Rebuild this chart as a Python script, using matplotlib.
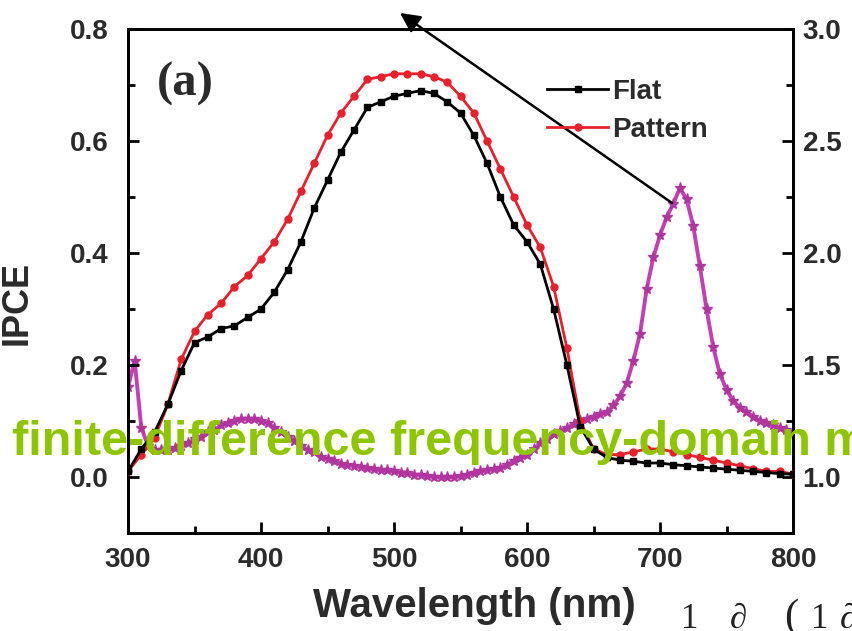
import numpy as np
import matplotlib
matplotlib.use("Agg")
import matplotlib.pyplot as plt

# IPCE spectra (10 nm steps)
wl = np.arange(300, 801, 10)
ipce_flat = [0.01, 0.05, 0.08, 0.13, 0.19, 0.24, 0.25, 0.265, 0.27, 0.285,
             0.30, 0.33, 0.37, 0.42, 0.48, 0.53, 0.58, 0.62, 0.66, 0.67,
             0.68, 0.685, 0.69, 0.685, 0.67, 0.65, 0.61, 0.56, 0.50, 0.45,
             0.42, 0.38, 0.30, 0.20, 0.09, 0.05, 0.035, 0.03, 0.028, 0.025,
             0.025, 0.022, 0.02, 0.018, 0.016, 0.014, 0.012, 0.01, 0.008, 0.006,
             0.005]
ipce_pattern = [0.01, 0.04, 0.07, 0.13, 0.21, 0.26, 0.29, 0.31, 0.34, 0.36,
                0.39, 0.42, 0.46, 0.51, 0.56, 0.61, 0.65, 0.68, 0.71, 0.715,
                0.72, 0.72, 0.72, 0.715, 0.705, 0.68, 0.65, 0.60, 0.55, 0.50,
                0.45, 0.41, 0.34, 0.23, 0.10, 0.05, 0.04, 0.04, 0.045, 0.05,
                0.05, 0.045, 0.04, 0.035, 0.03, 0.025, 0.02, 0.015, 0.01, 0.01,
                0.005]

# right-axis spectrum (5 nm steps)
wl_r = np.arange(300, 801, 5)
spec_r = [1.40, 1.52, 1.22, 1.14, 1.12, 1.12, 1.12, 1.13, 1.14, 1.15,
          1.17, 1.18, 1.20, 1.21, 1.23, 1.24, 1.25, 1.26, 1.26, 1.26,
          1.25, 1.24, 1.22, 1.20, 1.18, 1.16, 1.14, 1.12, 1.11, 1.09,
          1.08, 1.07, 1.06, 1.055, 1.05, 1.045, 1.04, 1.035, 1.03, 1.03,
          1.025, 1.02, 1.02, 1.01, 1.01, 1.005, 1.00, 1.00, 1.00, 1.00,
          1.005, 1.01, 1.02, 1.025, 1.03, 1.035, 1.04, 1.055, 1.07, 1.085,
          1.10, 1.125, 1.15, 1.17, 1.19, 1.205, 1.22, 1.235, 1.25, 1.26,
          1.27, 1.28, 1.29, 1.32, 1.36, 1.42, 1.52, 1.64, 1.84, 1.98,
          2.08, 2.16, 2.22, 2.29, 2.24, 2.12, 1.94, 1.75, 1.58, 1.46,
          1.39, 1.34, 1.31, 1.29, 1.27, 1.25, 1.24, 1.23, 1.22, 1.21,
          1.20]

FONT = "Liberation Sans"
TICK_C = "#2b2b2b"

fig = plt.figure(figsize=(8.52, 6.31), dpi=100)
ax = fig.add_axes([128 / 852, 1 - 533 / 631, (793 - 128) / 852, (533 - 29) / 631])
ax2 = ax.twinx()

ax2.plot(wl_r, spec_r, '-', color='#c43fb4', lw=2.8, marker='*', ms=8,
         mfc='#b0359f', mec='#b0359f', zorder=2)
ax.plot(wl, ipce_pattern, '-', color='#e8202c', lw=2, marker='o', ms=5, zorder=3,
        label='Pattern')
ax.plot(wl, ipce_flat, '-', color='black', lw=2, marker='s', ms=4.5, zorder=4,
        label='Flat')
ax.set_zorder(ax2.get_zorder() + 1)
ax.patch.set_visible(False)

ax.set_xlim(300, 800)
ax.set_ylim(-0.1, 0.8)
ax2.set_ylim(0.75, 3.0)
ax.set_xticks(np.arange(300, 801, 100))
ax.set_xticks(np.arange(350, 800, 100), minor=True)
ax.set_yticks(np.arange(0, 0.81, 0.2))
ax.set_yticks(np.arange(-0.1, 0.8, 0.2), minor=True)
ax2.set_yticks(np.arange(1.0, 3.01, 0.5))
ax2.set_yticks(np.arange(0.75, 3.0, 0.5), minor=True)
ax.set_yticklabels(['0.0', '0.2', '0.4', '0.6', '0.8'])
ax2.set_yticklabels(['1.0', '1.5', '2.0', '2.5', '3.0'])

for a in (ax, ax2):
    for s in a.spines.values():
        s.set_linewidth(2)
    a.tick_params(which='both', direction='in', width=2, colors='black',
                  labelcolor=TICK_C, labelsize=20, pad=7)
    a.tick_params(which='major', length=8)
    a.tick_params(which='minor', length=5)
    for lab in a.get_xticklabels() + a.get_yticklabels():
        lab.set_fontfamily(FONT)
        lab.set_fontweight('bold')
ax.tick_params(axis='y', pad=14)
ax.tick_params(axis='x', pad=10)

fig.text(474 / 852, 1 - 606 / 631, 'Wavelength (nm)', ha='center', va='center',
         fontsize=29, fontweight='bold', family=FONT, color=TICK_C)
fig.text(17 / 852, 1 - 303 / 631, 'IPCE', ha='center', va='center', rotation=90,
         fontsize=26, fontweight='bold', family=FONT, color=TICK_C)
fig.text(157 / 852, 1 - 62 / 631, '(a)', ha='left', va='top',
         fontsize=35, fontweight='bold', family='Liberation Serif', color=TICK_C)

handles, labels = ax.get_legend_handles_labels()
ax.legend(handles[::-1], labels[::-1], loc='upper left', frameon=False,
          bbox_to_anchor=(547 / 852, 1 - 79 / 631), bbox_transform=fig.transFigure,
          prop={'family': FONT, 'weight': 'bold', 'size': 20},
          handlelength=2.2, handletextpad=0.15, labelspacing=0.42, borderpad=0,
          borderaxespad=0, labelcolor=TICK_C)

# overlaid annotations
fig.add_artist(matplotlib.patches.FancyArrowPatch(
    (672, 631 - 203), (400, 631 - 13), transform=None,
    arrowstyle='-|>,head_length=12,head_width=6', color='black', lw=1.8,
    shrinkA=0, shrinkB=0))
fig.text(12 / 852, 1 - 455 / 631, 'finite-difference frequency-domain method',
         ha='left', va='baseline', fontsize=35, fontweight='bold', family=FONT,
         color='#8dc600')
for ch, xp, fs in [('1', 681, 25), ('∂', 730, 25), ('(', 784, 31), ('1', 811, 25), ('∂', 840, 25)]:
    fig.text(xp / 852, 1 - 628 / 631, ch, ha='left', va='baseline', fontsize=fs,
             family=['Liberation Serif', 'DejaVu Serif'], color='#222222')

fig.savefig('out.png', dpi=100)
